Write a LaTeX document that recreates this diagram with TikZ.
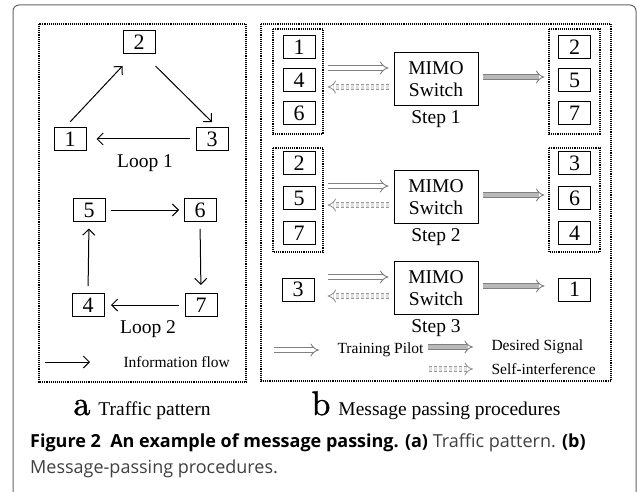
\documentclass[tikz,border=0pt]{standalone}
\usepackage{fontspec}
\setmainfont{Liberation Serif}
\newfontfamily\capfont{Open Sans}
\newfontfamily\lmfont[FakeBold=1.2]{lmroman10-regular.otf}
\usetikzlibrary{arrows.meta,positioning}

\tikzset{
  num/.style={draw, line width=1pt, minimum width=32pt, minimum height=23pt, inner sep=0pt,
    font=\fontsize{22}{22}\selectfont},
  group/.style={draw, densely dotted, line width=1.1pt},
  switch/.style={draw, line width=1pt, minimum width=84pt, minimum height=53pt, inner sep=0pt,
    align=center, font=\fontsize{19.5}{22}\selectfont},
  lbl/.style={font=\fontsize{19.5}{22}\selectfont},
  legend/.style={font=\fontsize{15.5}{17}\selectfont},
  flow/.style={-{Straight Barb[length=6pt,width=12pt]}, line width=1pt},
  pilot/.style={draw=black!50, double=white, double distance=3.6pt, line width=0.9pt,
    -{Implies[length=7pt,width=12pt]}},
  desired/.style={draw=black!50, double=black!28, double distance=3.6pt, line width=0.9pt,
    -{Implies[length=7pt,width=12pt]}},
  selfint/.style={draw=black!40, double=black!12, densely dashed, double distance=3.6pt, line width=0.9pt,
    -{Implies[length=7pt,width=12pt]}},
}

\begin{document}
\begin{tikzpicture}[x=1pt,y=-1pt]
  \useasboundingbox (0,0) rectangle (637,492);
  \draw[black!60, line width=1pt, rounded corners=6pt] (13,500) -- (13,5) -- (636,5) -- (636,500);

  % (a) the two loops
  \draw[group] (39,24) rectangle (246,382);
  \node[num] (t2) at (139,42) {2};
  \node[num] (t1) at (70,139) {1};
  \node[num] (t3) at (212,139) {3};
  \node[lbl] (loop1) at (145,163) {Loop 1};
  \draw[flow] ([yshift=5pt]t1.north) -- ([yshift=-12pt]t2.south west);
  \draw[flow] ([yshift=-12pt]t2.south east) -- ([yshift=5pt]t3.north);
  \draw[flow, shorten <=6pt, shorten >=10pt] (t3.west) -- (t1.east);

  \node[num] (t5) at (89,210) {5};
  \node[num] (t6) at (200,210) {6};
  \node[num] (t4) at (88,305) {4};
  \node[num] (t7) at (201,305) {7};
  \node[lbl] (loop2) at (148,329) {Loop 2};
  \draw[flow, shorten <=5.5pt, shorten >=4.5pt] (t5.east) -- (t6.west);
  \draw[flow, shorten <=7pt, shorten >=8pt] (t6.south) -- (t7.north);
  \draw[flow, shorten <=5.5pt, shorten >=6.5pt] (t7.west) -- (t4.east);
  \draw[flow, shorten <=7pt, shorten >=6.5pt] (t4.north) -- (t5.south);

  \node[legend, anchor=west] (info) at (120,362) {Information flow};
  \draw[flow] ([xshift=-75pt]info.west) -- ([xshift=-30pt]info.west);

  \node[lbl, anchor=base] (capa) at (142,415) {{\lmfont\fontsize{34}{34}\selectfont a}\hspace{8pt}Traffic pattern};

  % (b) the three steps
  \draw[group] (261,24) rectangle (611,381);

  \draw[group] (273,29) rectangle (323,134);
  \foreach \n/\y in {1/47,4/80,6/113}
    \node[num] (a\n) at (299,\y) {\n};
  \draw[group] (549,29) rectangle (600,134);
  \foreach \n/\y in {2/47,5/80,7/113}
    \node[num] (b\n) at (574.5,\y) {\n};
  \node[switch] (sw1) at (436,79) {MIMO\\Switch};
  \node[lbl, below=1pt of sw1] (step1) {Step 1};

  \draw[group] (273,148) rectangle (323,252);
  \foreach \n/\y in {2/163,5/198,7/233}
    \node[num] (c\n) at (299,\y) {\n};
  \draw[group] (549,148) rectangle (600,252);
  \foreach \n/\y in {3/163,6/198,4/233}
    \node[num] (d\n) at (574.5,\y) {\n};
  \node[switch] (sw2) at (436,197) {MIMO\\Switch};
  \node[lbl, below=1pt of sw2] (step2) {Step 2};

  \node[num] (e3) at (298,289.5) {3};
  \node[num] (f1) at (574.5,289.5) {1};
  \node[switch] (sw3) at (436,288) {MIMO\\Switch};
  \node[lbl, below=1pt of sw3] (step3) {Step 3};

  \foreach \s in {sw1,sw2,sw3} {
    \draw[pilot] ([shift={(-66,-11)}]\s.west) -- ([shift={(-5,-11)}]\s.west);
    \draw[selfint] ([shift={(-5,8)}]\s.west) -- ([shift={(-66,8)}]\s.west);
    \draw[desired] ([shift={(4,-2)}]\s.east) -- ([shift={(66,-2)}]\s.east);
  }

  % legend
  \node[legend, anchor=west] (lpilot) at (334,350) {Training Pilot};
  \draw[pilot] ([xshift=-60pt]lpilot.west) -- ([xshift=-15pt]lpilot.west);
  \node[legend, anchor=west] (ldesired) at (488,347) {Desired Signal};
  \draw[desired] ([xshift=-60pt]ldesired.west) -- ([xshift=-15pt]ldesired.west);
  \node[legend, anchor=west] (lself) at (488,369) {Self-interference};
  \draw[selfint] ([xshift=-59pt]lself.west) -- ([xshift=-15pt]lself.west);

  \node[lbl, anchor=base] (capb) at (436,415) {{\lmfont\fontsize{34}{34}\selectfont b}\hspace{8pt}Message passing procedures};

  % caption
  \node[anchor=base west, inner sep=0pt, font=\capfont\fontsize{18}{22}\selectfont] (cap1) at (30,447)
    {{\bfseries Figure 2\ \ An example of message passing. (a)} {\color{black!75}Traffic pattern.} {\bfseries (b)}};
  \node[anchor=base west, inner sep=0pt, font=\capfont\fontsize{18}{22}\selectfont, black!75] (cap2) at (30,473)
    {Message-passing procedures.};
\end{tikzpicture}
\end{document}
